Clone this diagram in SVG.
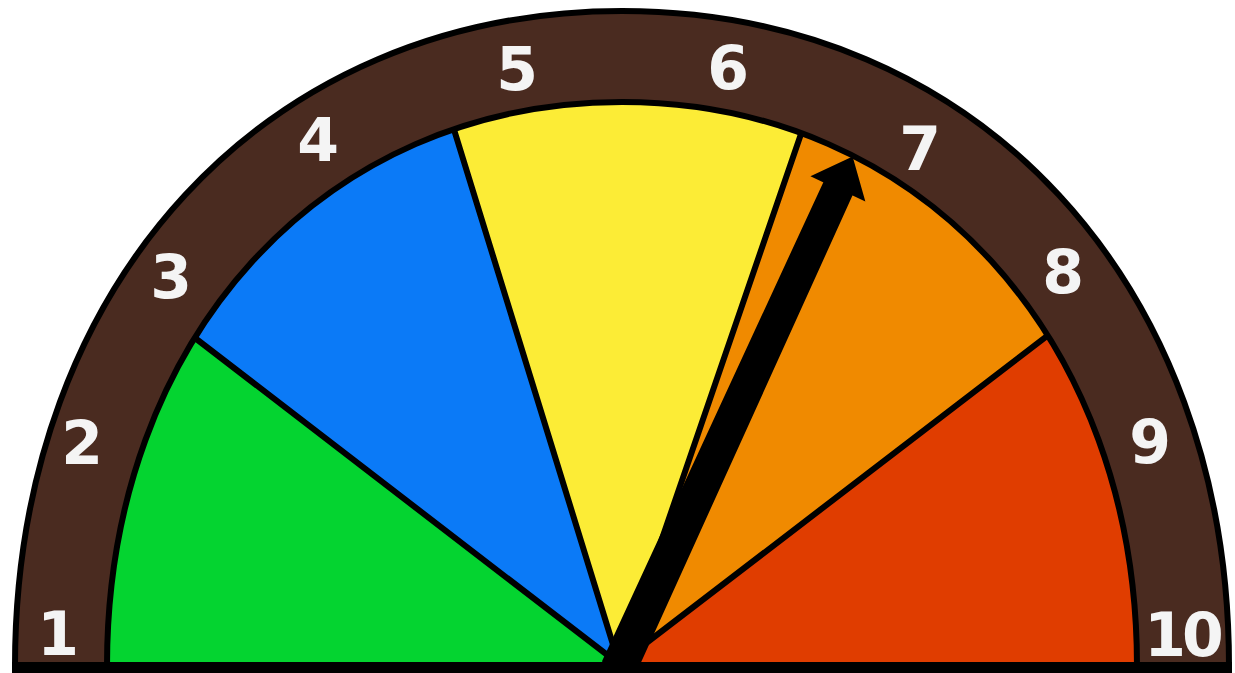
<svg xmlns="http://www.w3.org/2000/svg" width="1235" height="673" viewBox="0 0 1235 673">
<style>
.num{font-family:"DejaVu Sans","Liberation Sans",sans-serif;font-weight:bold;font-size:60px;fill:#f4f4f4;text-anchor:middle}
.sep{stroke:#000;stroke-width:6;fill:none;stroke-linecap:round}
</style>
<defs>
<clipPath id="inner"><path d="M107,666 C107,338.9 323.3,102 622,102 C920.7,102 1137,338.9 1137,666 Z"/></clipPath>
</defs>
<rect width="1235" height="673" fill="#ffffff"/>
<g id="rim">
<path d="M15,666 C15,282.8 266.9,11 622,11 C977.1,11 1229,282.8 1229,666 Z" fill="#4a2b20" stroke="#000" stroke-width="6"/>
</g>
<g id="segments" clip-path="url(#inner)">
<polygon id="green" points="619,664 619,700 0,700 0,188" fill="#04d430"/>
<polygon id="blue" points="619,664 0,188 0,0 414,0" fill="#0b7af7"/>
<polygon id="yellow" points="619,664 414,0 847,0" fill="#fcec36"/>
<polygon id="orange" points="619,664 847,0 1235,0 1235,192" fill="#f08a00"/>
<polygon id="red" points="619,664 1235,192 1235,700 619,700" fill="#e03d00"/>
</g>
<g id="connectors" clip-path="url(#inner)">
<line class="sep" x1="619" y1="664" x2="0" y2="188"/>
<line class="sep" x1="619" y1="664" x2="414" y2="0"/>
<line class="sep" x1="619" y1="664" x2="847" y2="0"/>
<line class="sep" x1="619" y1="664" x2="1235" y2="192"/>
</g>
<path id="inner-outline" d="M107,666 C107,338.9 323.3,102 622,102 C920.7,102 1137,338.9 1137,666" fill="none" stroke="#000" stroke-width="6"/>
<g id="needle">
<polygon points="852,158 863.8,199.7 852,194.2 634.2,675 603.2,661 824.6,181.8 812.8,176.3" fill="#000" stroke="#000" stroke-width="2" stroke-linejoin="miter"/>
</g>
<rect id="base" x="12" y="662" width="1220" height="11" fill="#000"/>
<g id="labels">
<text class="num" x="58" y="655">1</text>
<text class="num" x="82" y="464">2</text>
<text class="num" x="171" y="298">3</text>
<text class="num" x="318" y="161">4</text>
<text class="num" x="517" y="90">5</text>
<text class="num" x="728" y="89">6</text>
<text class="num" x="920" y="170">7</text>
<text class="num" x="1063" y="293">8</text>
<text class="num" x="1150" y="463">9</text>
<text class="num" x="1182" y="656" letter-spacing="-4">10</text>
</g>
</svg>
